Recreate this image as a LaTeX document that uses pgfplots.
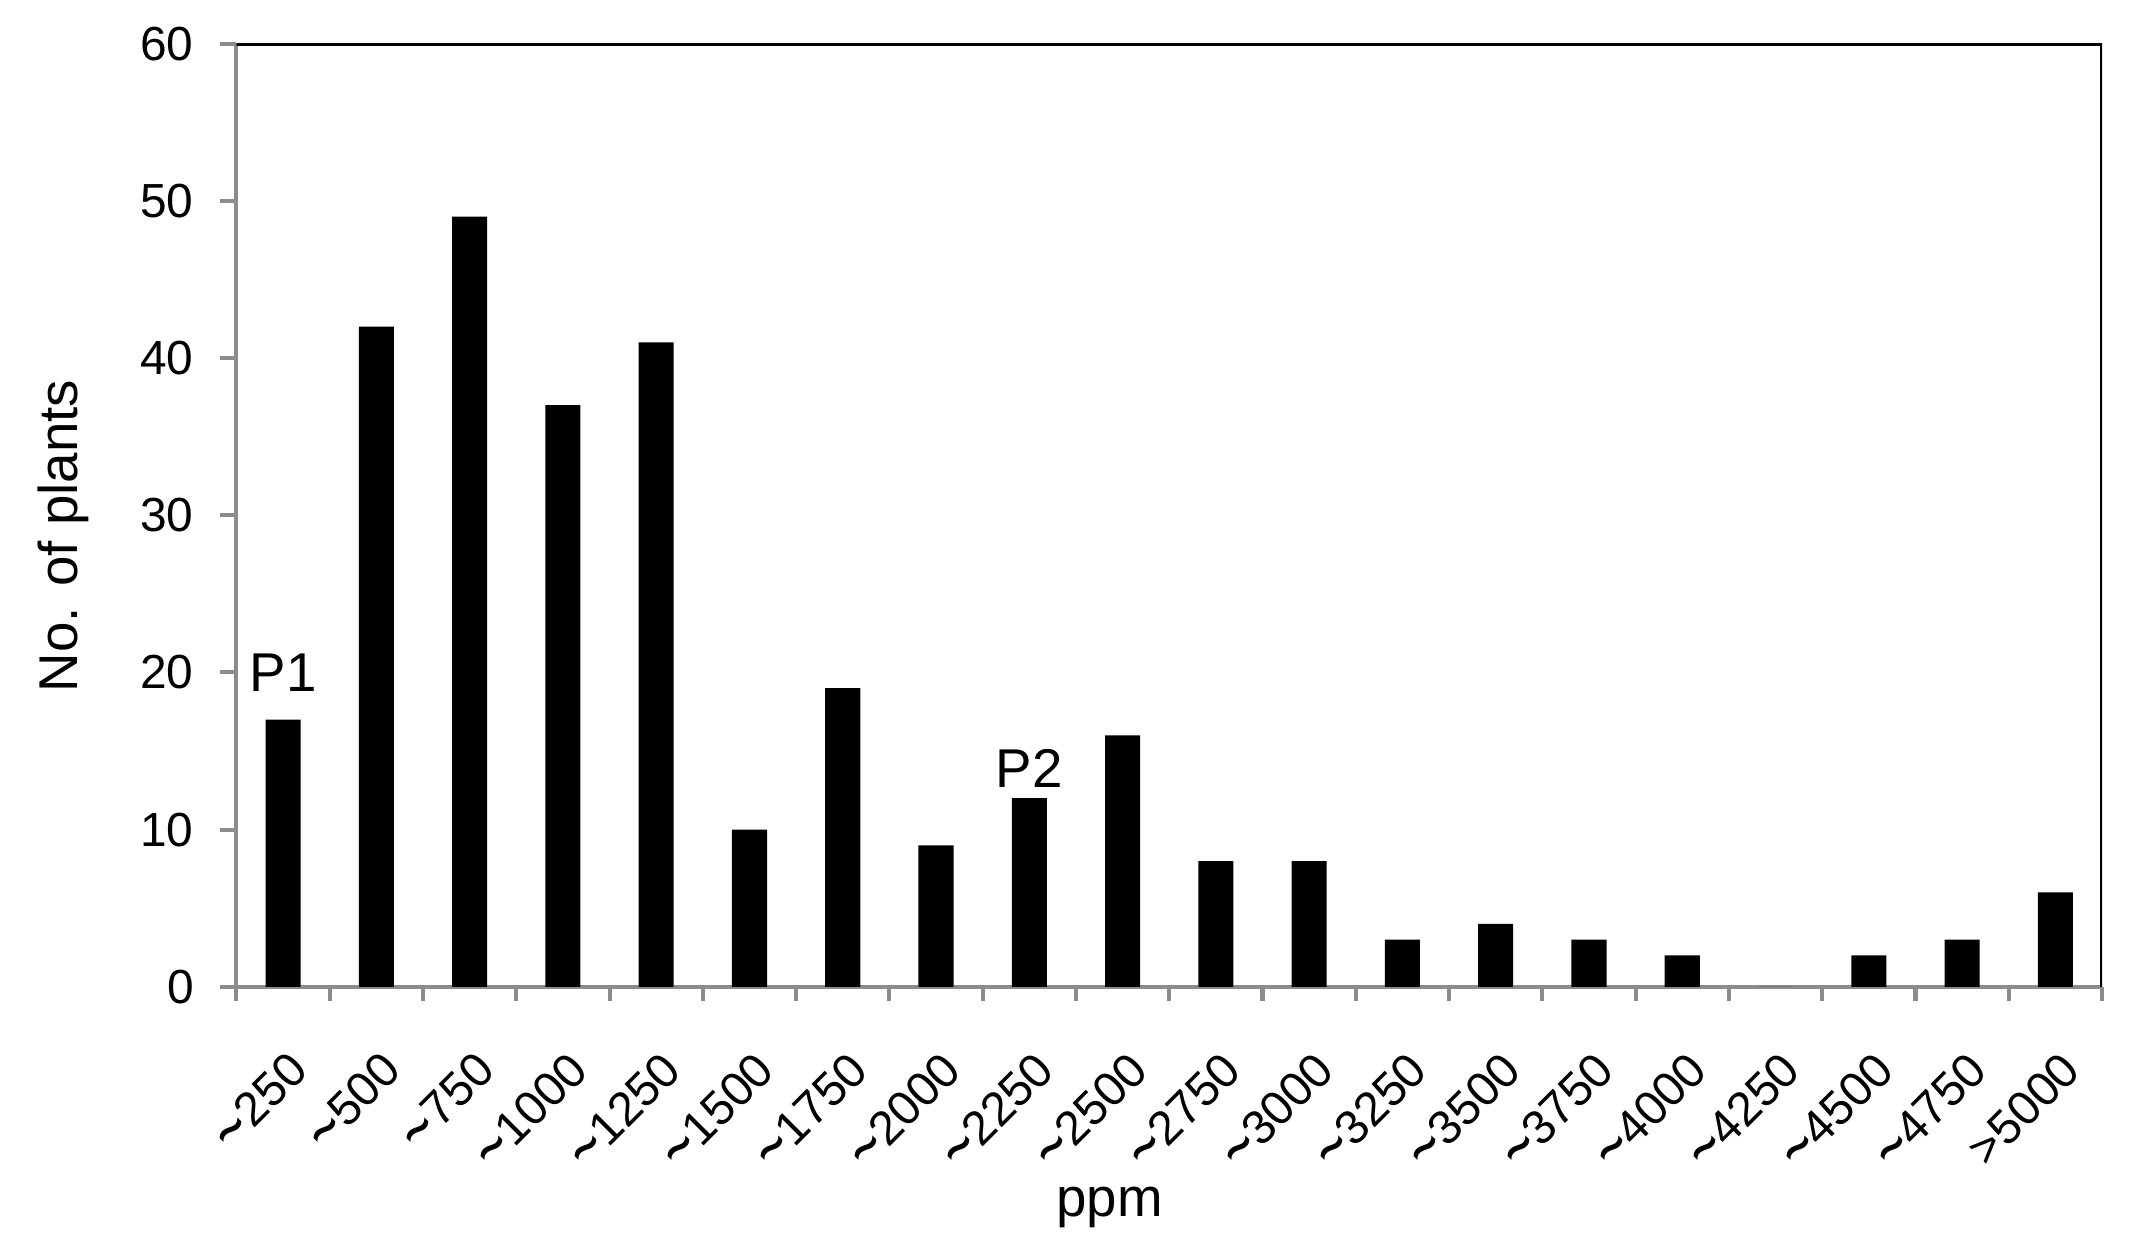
\documentclass[border=0pt]{standalone}
\usepackage{fontspec}
\setmainfont{Liberation Sans}
\usepackage{pgfplots}
\pgfplotsset{compat=1.18}
\definecolor{axgray}{HTML}{8C8C8C}
\newcommand{\tl}{\raisebox{-0.2em}{\scalebox{1.15}[1.6]{\textasciitilde}}}
\begin{document}
\begin{tikzpicture}
\begin{axis}[
  scale only axis,
  width=409.5pt, height=207pt,
  ybar, bar width=7.7pt,
  xmin=-0.5, xmax=19.5, ymin=0, ymax=60,
  enlargelimits=false,
  axis x line*=bottom, axis y line*=left,
  axis line style={axgray, line width=0.9pt},
  tick align=outside,
  xtick={0,...,19},
  xticklabels={{\tl250},{\tl500},{\tl750},{\tl1000},{\tl1250},{\tl1500},{\tl1750},{\tl2000},{\tl2250},{\tl2500},{\tl2750},{\tl3000},{\tl3250},{\tl3500},{\tl3750},{\tl4000},{\tl4250},{\tl4500},{\tl4750},{>5000}},
  major x tick style={draw=none},
  minor xtick={-0.5,0.5,...,19.5},
  minor x tick style={axgray, line width=0.9pt},
  minor tick length=3.2pt,
  ytick={0,10,...,60},
  major tick length=3.5pt,
  y tick style={axgray, line width=0.9pt},
  /pgf/number format/assume math mode=true,
  tick label style={font=\fontsize{10.5}{12}\selectfont},
  xticklabel style={xshift=0.8pt, yshift=-10pt, rotate=45, anchor=north east, inner sep=0pt},
  yticklabel style={anchor=east, inner sep=0pt, xshift=-5.7pt},
  label style={font=\fontsize{12}{14}\selectfont},
  ylabel={No. of plants},
  ylabel style={at={(axis description cs:-0.085,0.478)}, anchor=base},
  xlabel={ppm},
  xlabel style={at={(axis description cs:0.468,-0.2435)}, anchor=base},
]
\addplot[fill=black, draw=none] coordinates {
(0,17) (1,42) (2,49) (3,37) (4,41) (5,10) (6,19) (7,9) (8,12) (9,16)
(10,8) (11,8) (12,3) (13,4) (14,3) (15,2) (16,0) (17,2) (18,3) (19,6)
};
\draw[black, line width=0.9pt] (rel axis cs:0,1) -- (rel axis cs:1,1) -- (rel axis cs:1,0);
\node[anchor=base, font=\fontsize{12}{14}\selectfont, yshift=6.2pt] at (axis cs:0,17) {P1};
\node[anchor=base, font=\fontsize{12}{14}\selectfont, yshift=2.4pt] at (axis cs:8,12) {P2};
\end{axis}
\pgfresetboundingbox
\path (-51.9pt,-58.5pt) rectangle (418.5pt,216.6pt);
\end{tikzpicture}
\end{document}
